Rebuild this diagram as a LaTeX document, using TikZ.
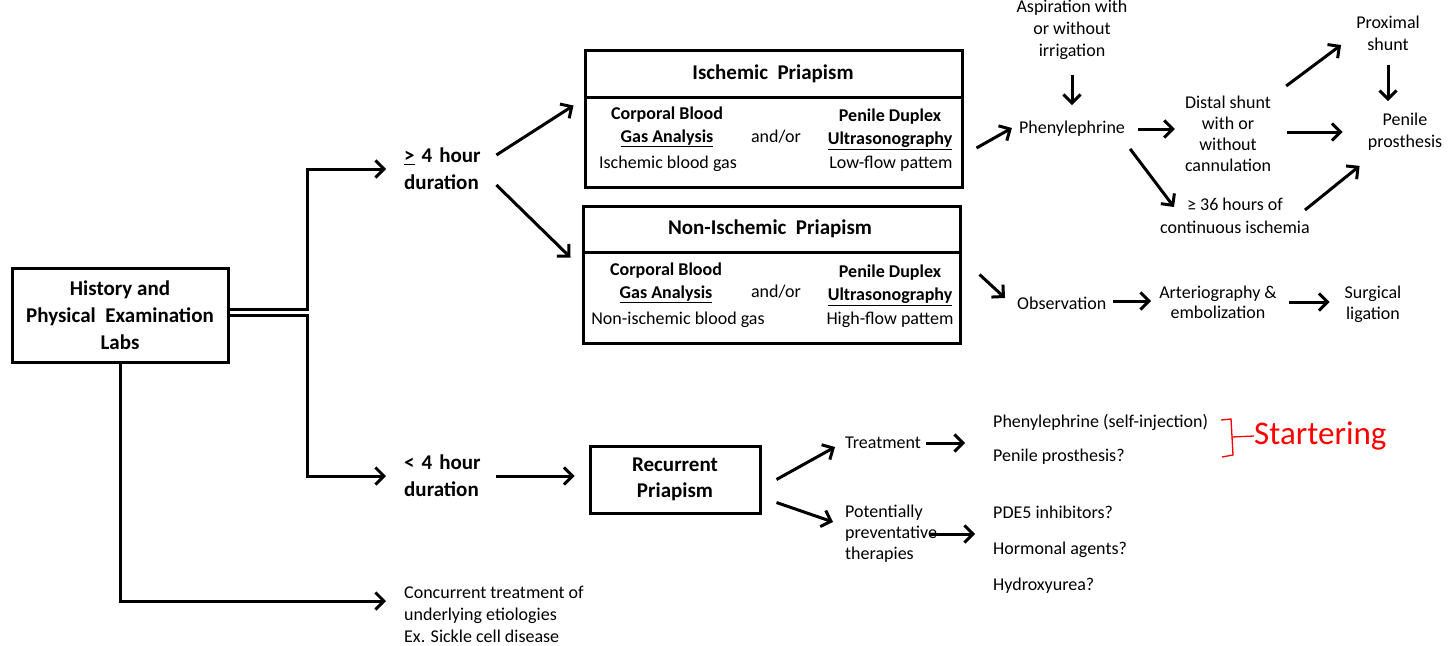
\documentclass[tikz,border=0pt]{standalone}
\usepackage{fontspec}
\setmainfont{Carlito}
\usetikzlibrary{arrows.meta,calc}
\begin{document}
\begin{tikzpicture}[x=1pt,y=-1pt,
  box/.style={draw, line width=3pt, inner sep=0pt},
  rt/.style={font=\fontsize{18}{22}\selectfont, inner sep=0pt, align=center},
  bt/.style={font=\bfseries\fontsize{21}{27}\selectfont, inner sep=0pt, align=center},
  ct/.style={font=\bfseries\fontsize{18}{23}\selectfont, inner sep=0pt, align=center},
  arr/.style={line width=3pt, -{Straight Barb[length=8.5pt,width=17pt]}},
  ln/.style={line width=3pt}]
\fill[white] (0,0) rectangle (1450,645);
\useasboundingbox (0,0) rectangle (1450,645);

% left part
\node[box, bt, minimum width=216pt, minimum height=94pt] (hist) at (120,315) {History and\\Physical~~Examination\\Labs};
\coordinate (jx) at (307,0);
\node[bt, align=left, anchor=west, text width=90pt] (dur4) at (404,169) {\underline{>} 4 hour\\duration};
\node[bt, align=left, anchor=west, text width=90pt] (durlt) at (404,476) {< 4 hour\\duration};
\node[rt, align=left, anchor=west] (conc) at (404,614) {Concurrent treatment of\\underlying etiologies\\Ex. Sickle cell disease};

% ischemic box
\node[box, minimum width=377pt, minimum height=137pt] (isch) at (773.5,118.5) {};
\draw[ln] (isch.west |- 0,97) -- (isch.east |- 0,97);
\node[bt] (ischt) at (773,74) {Ischemic~ Priapism};
\node[ct] (ischl) at (667,127) {Corporal Blood\\\underline{Gas Analysis}};
\node[rt] (ischb) at (668,164) {Ischemic blood gas};
\node[rt] (ischa) at (776,137) {and/or};
\node[ct] (ischr) at (890,129) {Penile Duplex\\\underline{Ultrasonography}};
\node[rt] (ischp) at (891,164) {Low-flow pattem};

% non-ischemic box
\node[box, minimum width=377pt, minimum height=137pt] (noni) at (771.5,274.5) {};
\draw[ln] (noni.west |- 0,252) -- (noni.east |- 0,252);
\node[bt] (nonit) at (770,229) {Non-Ischemic~ Priapism};
\node[ct] (nonil) at (666,283) {Corporal Blood\\\underline{Gas Analysis}};
\node[rt] (nonib) at (678,320) {Non-ischemic blood gas};
\node[rt] (nonia) at (776,292) {and/or};
\node[ct] (nonir) at (890,285) {Penile Duplex\\\underline{Ultrasonography}};
\node[rt] (nonip) at (890,320) {High-flow pattem};

% recurrent
\node[box, bt, font=\bfseries\fontsize{21}{26}\selectfont, minimum width=170pt, minimum height=67pt] (recur) at (675,479.5) {Recurrent\\Priapism};
\node[rt, anchor=west] (treat) at (845,443) {Treatment};
\node[rt, anchor=west, align=left, font=\fontsize{18}{21}\selectfont] (pot) at (845,534) {Potentially\\preventative\\therapies};
\node[rt, anchor=west, align=left] (rl1) at (993,439) {Phenylephrine (self-injection)\\[12pt]Penile prosthesis?};
\node[rt, anchor=west, align=left] (rl2) at (993,550) {PDE5 inhibitors?\\[14pt]Hormonal agents?\\[14pt]Hydroxyurea?};

% ischemic flow
\node[rt] (phen) at (1072,129) {Phenylephrine};
\node[rt] (asp) at (1072,30) {Aspiration with\\or without\\irrigation};
\node[rt, font=\fontsize{18}{21}\selectfont] (distal) at (1228,134) {Distal shunt\\with or\\without\\cannulation};
\node[rt, font=\fontsize{18}{23}\selectfont] (h36) at (1235,216) {≥ 36 hours of\\continuous ischemia};
\node[rt] (prox) at (1388,33) {Proximal\\shunt};
\node[rt] (pros) at (1405,132) {Penile\\prosthesis};

% non-ischemic flow
\node[rt, anchor=west] (obs) at (1017,303) {Observation};
\node[rt, font=\fontsize{18}{20}\selectfont] (art) at (1218,302) {Arteriography \&\\embolization};
\node[rt, font=\fontsize{18}{21}\selectfont] (surg) at (1373,304) {Surgical\\ligation};

% annotation
\node[text=red, font=\fontsize{33}{33}\selectfont, anchor=west, inner sep=0pt] (annot) at (1254,436) {Startering};
\draw[red, line width=1.3pt] (1221,420) -- (1231,419) -- (1232,437) -- (1233,455) -- (1222,457);
\draw[red, line width=1.3pt] (1232,437) -- (annot.west);

% connectors
\draw[arr] ($(hist.east)+(0,-6)$) -| (jx |- dur4.west) -- ($(dur4.west)+(-18,0)$);
\draw[arr] (hist.east) -| (jx |- durlt.west) -- ($(durlt.west)+(-18,0)$);
\draw[arr] (hist.south) |- ($(conc.west)+(-18,-13)$);
\draw[arr] ($(dur4.east)+(2,-14)$) -- ($(isch.west)+(-10,-13)$);
\draw[arr] ($(dur4.east)+(2,16)$) -- ($(noni.west)+(-11,-17)$);
\draw[arr] ($(durlt.east)+(2,0)$) -- ($(recur.west |- durlt.east)+(-14,0)$);
\draw[arr] ($(recur.east)+(15,0)$) -- ($(treat.west)+(-10,4)$);
\draw[arr] ($(recur.east)+(15,23)$) -- ($(pot.west)+(-12,-12)$);
\draw[arr] ($(treat.east)+(5,0)$) -- ($(rl1.west)+(-28,4)$);
\draw[arr] ($(pot.east)+(-8,0)$) -- ($(rl2.west)+(-18,-16)$);

\draw[arr] ($(isch.east)+(13,29.5)$) -- ($(phen.west)+(-7,-1)$);
\draw[arr] ($(asp.south)+(0,15)$) -- ($(phen.north)+(0,-16)$);
\draw[arr] ($(phen.east)+(13,0)$) -- ($(distal.west)+(-10,-5)$);
\draw[arr] ($(phen.south east)+(5,12)$) -- ($(h36.west)+(14,-9)$);
\draw[arr] ($(distal.north east)+(15,-10)$) -- ($(prox.west)+(-15,12)$);
\draw[arr] ($(prox.south)+(0,14)$) -- ($(prox.south |- pros.north)+(0,-12)$);
\draw[arr] ($(distal.east)+(16,-2)$) -- ($(pros.west)+(-25,0)$);
\draw[arr] ($(h36.east)+(-5,-6)$) -- ($(pros.south west)+(-8,15)$);

\draw[arr] ($(noni.east)+(18,0)$) -- ($(obs.west)+(-12,-5)$);
\draw[arr] ($(obs.east)+(7,-2)$) -- ($(art.west)+(-8,-1)$);
\draw[arr] ($(art.east)+(12,0)$) -- ($(surg.west)+(-15,-2)$);
\end{tikzpicture}
\end{document}
